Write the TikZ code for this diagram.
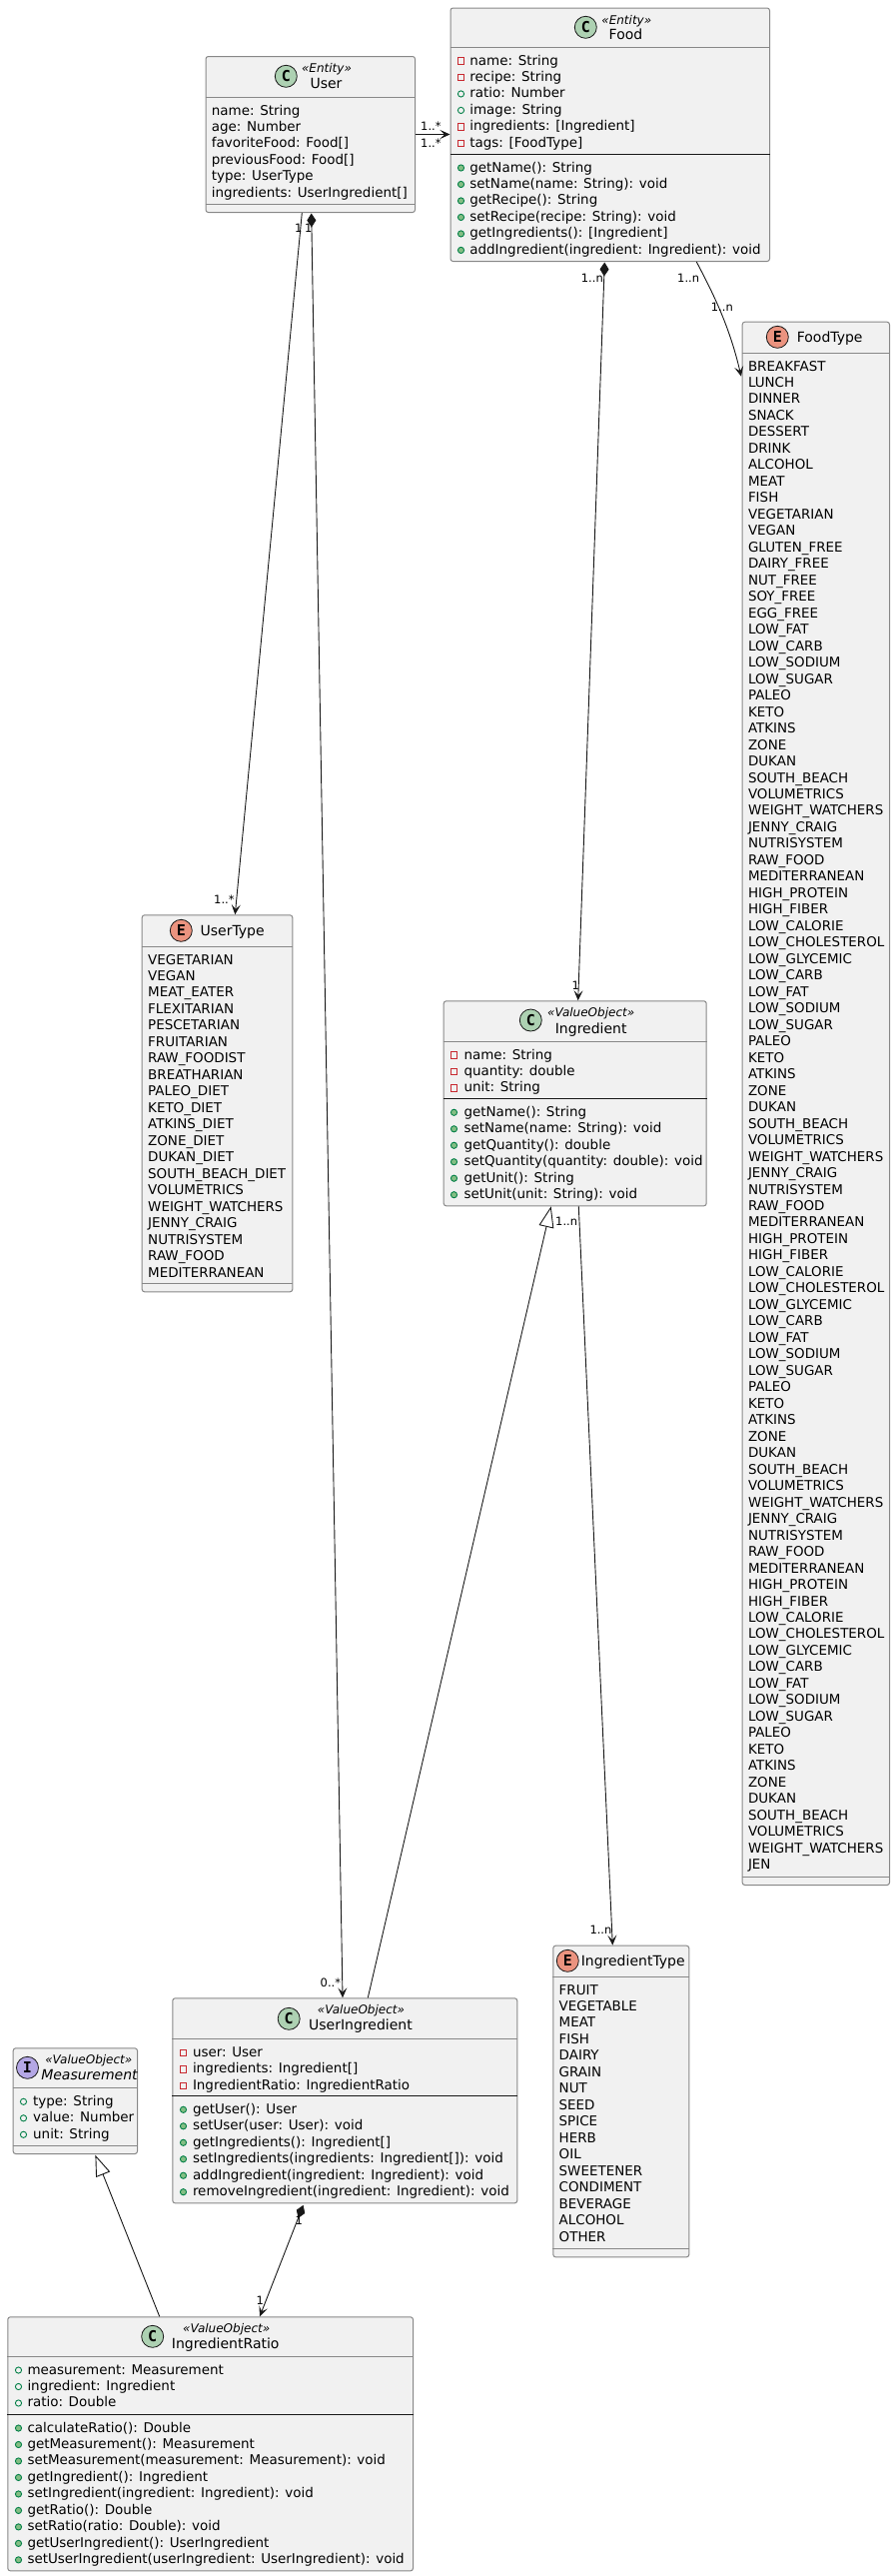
\documentclass[tikz,border=0pt]{standalone}
\usepackage{fontspec}
\setmainfont{DejaVu Sans}
\newfontfamily\spotfont{DejaVu Sans Mono}
\usetikzlibrary{arrows.meta,calc}
\definecolor{boxfill}{HTML}{F1F1F1}
\definecolor{boxline}{HTML}{888888}
\definecolor{ink}{HTML}{181818}
\definecolor{spotC}{HTML}{ADD1B2}
\definecolor{spotE}{HTML}{EB937F}
\definecolor{spotI}{HTML}{B4A7E5}
\definecolor{privred}{HTML}{C82930}
\definecolor{pubgreen}{HTML}{038048}
\definecolor{pubfill}{HTML}{84BE84}
\newcommand{\bodyfont}{\fontsize{13.45}{16.48}\selectfont}
\newcommand{\mylines}[1]{\bodyfont\begin{tabular}[t]{@{}l@{}}#1\end{tabular}}
\tikzset{
  umlbox/.style={draw=boxline,fill=boxfill,line width=1pt,rounded corners=2.5pt,anchor=north west,inner sep=0pt},
  sepgray/.style={draw=boxline,line width=1pt},
  sepblack/.style={draw=ink,line width=1pt},
  txt/.style={anchor=base west,inner sep=0pt,text=black},
  classname/.style={anchor=base,inner sep=0pt,font=\fontsize{14}{16}\selectfont},
  stereo/.style={anchor=base,inner sep=0pt,font=\fontsize{12}{13}\selectfont\itshape},
  spot/.style={circle,draw=ink,line width=0.8pt,minimum size=22pt,inner sep=0pt,font=\spotfont\bfseries\fontsize{15}{15}\selectfont},
  multi/.style={anchor=base west,inner sep=0pt,font=\fontsize{11.5}{13}\selectfont,text=black},
  assoc/.style={draw=ink,line width=0.9pt,-{Stealth[length=10pt,width=9pt,inset=4.5pt]}},
  comp/.style={draw=ink,line width=0.9pt,{Diamond[length=14pt,width=9pt]}-{Stealth[length=10pt,width=9pt,inset=4.5pt]}},
  gener/.style={draw=ink,line width=0.9pt,-{Triangle[length=21pt,width=15pt,fill=white]}},
}
\newcommand{\vp}[2]{\draw[draw=privred,line width=0.9pt,fill=none] (#1-3.2,#2-3.2) rectangle (#1+3.2,#2+3.2);}
\newcommand{\vf}[2]{\draw[draw=pubgreen,line width=0.9pt,fill=none] (#1,#2) circle (3.1pt);}
\newcommand{\vm}[2]{\draw[draw=pubgreen,line width=0.9pt,fill=pubfill] (#1,#2) circle (3.1pt);}
\newcommand{\icons}[3]{\foreach \t [count=\i from 0] in {#3}{\pgfmathsetmacro\yy{#2-4+\i*16.48}\t{#1}{\yy}}}
\newcommand{\mkbox}[5]{\pgfmathsetmacro\ww{#4-#2}\pgfmathsetmacro\hh{#5-#3}\node[umlbox,minimum width=\ww pt,minimum height=\hh pt] (#1) at (#2,#3) {};}
\begin{document}
\begin{tikzpicture}[x=1pt,y=-1pt]
\useasboundingbox (0,0) rectangle (896,2578);
% ---------- boxes ----------
\mkbox{user}{205.5}{56}{415}{212}
\mkbox{food}{450.5}{7.5}{770}{261}
\mkbox{foodtype}{742.7}{321.7}{890}{1886}
\mkbox{usertype}{141.7}{915.3}{292.3}{1292.3}
\mkbox{ingredient}{443.7}{1001.3}{706.7}{1206.3}
\mkbox{useringredient}{172.3}{1999.3}{517.3}{2204.3}
\mkbox{measurement}{12.7}{2049.3}{137}{2155}
\mkbox{ingredienttype}{553.3}{1946.7}{689.3}{2258.3}
\mkbox{ratio}{7.3}{2318.3}{413}{2572.3}
% ---------- separators ----------
\draw[sepgray] (user.west |- 0,97.7) -- (user.east |- 0,97.7);
\draw[sepgray] (user.west |- 0,204.3) -- (user.east |- 0,204.3);
\draw[sepgray] (food.west |- 0,47.5) -- (food.east |- 0,47.5);
\draw[sepblack] (food.west |- 0,154.5) -- (food.east |- 0,154.5);
\draw[sepgray] (foodtype.west |- 0,353.3) -- (foodtype.east |- 0,353.3);
\draw[sepgray] (foodtype.west |- 0,1878) -- (foodtype.east |- 0,1878);
\draw[sepgray] (usertype.west |- 0,947.3) -- (usertype.east |- 0,947.3);
\draw[sepgray] (usertype.west |- 0,1284.3) -- (usertype.east |- 0,1284.3);
\draw[sepgray] (ingredient.west |- 0,1042.7) -- (ingredient.east |- 0,1042.7);
\draw[sepblack] (ingredient.west |- 0,1099.3) -- (ingredient.east |- 0,1099.3);
\draw[sepgray] (useringredient.west |- 0,2040.7) -- (useringredient.east |- 0,2040.7);
\draw[sepblack] (useringredient.west |- 0,2097.3) -- (useringredient.east |- 0,2097.3);
\draw[sepgray] (measurement.west |- 0,2089.3) -- (measurement.east |- 0,2089.3);
\draw[sepgray] (measurement.west |- 0,2147.7) -- (measurement.east |- 0,2147.7);
\draw[sepgray] (ingredienttype.west |- 0,1978.7) -- (ingredienttype.east |- 0,1978.7);
\draw[sepgray] (ingredienttype.west |- 0,2250.3) -- (ingredienttype.east |- 0,2250.3);
\draw[sepgray] (ratio.west |- 0,2358.7) -- (ratio.east |- 0,2358.7);
\draw[sepblack] (ratio.west |- 0,2416) -- (ratio.east |- 0,2416);
% ---------- headers ----------
\node[spot,fill=spotC] (userspot) at (286.3,76.3) {C};
\node[stereo] (userst) at (327,72.7) {«Entity»};
\node[classname] (username) at (326.5,88.7) {User};
\node[spot,fill=spotC] (foodspot) at (586.3,27.3) {C};
\node[stereo] (foodst) at (627.3,24.3) {«Entity»};
\node[classname] (foodname) at (626.5,39.3) {Food};
\node[spot,fill=spotE] (ftspot) at (778.3,337.3) {E};
\node[classname] (ftname) at (830.7,342.3) {FoodType};
\node[spot,fill=spotE] (utspot) at (181.3,931.3) {E};
\node[classname] (utname) at (232.7,936) {UserType};
\node[spot,fill=spotC] (ingspot) at (531.3,1021) {C};
\node[stereo] (ingst) at (591.7,1017.3) {«ValueObject»};
\node[classname] (ingname) at (591.7,1034) {Ingredient};
\node[spot,fill=spotC] (uispot) at (289.2,2020.3) {C};
\node[stereo] (uist) at (361.5,2015.3) {«ValueObject»};
\node[classname] (uiname) at (361,2031.7) {UserIngredient};
\node[spot,fill=spotC] (rspot) at (152.7,2338.3) {C};
\node[stereo] (rst) at (226.7,2334) {«ValueObject»};
\node[classname] (rname) at (225.7,2350.7) {IngredientRatio};
\node[spot,fill=spotI] (mspot) at (27.5,2069.3) {I};
\node[stereo] (mst) at (88.8,2065.3) {«ValueObject»};
\node[classname,font=\fontsize{14}{16}\selectfont\itshape] (mname) at (89.5,2081.7) {Measurement};
\node[spot,fill=spotE] (itspot) at (568.3,1962.3) {E};
\node[classname] (itname) at (633.7,1967.7) {IngredientType};
% ---------- compartments ----------
\node[txt] (userattrs) at (211.7,115) {\mylines{name: String\\age: Number\\favoriteFood: Food[]\\previousFood: Food[]\\type: UserType\\ingredients: UserIngredient[]}};
\node[txt] (foodattrs) at (470.2,65) {\mylines{name: String\\recipe: String\\ratio: Number\\image: String\\ingredients: [Ingredient]\\tags: [FoodType]}};
\icons{461.5}{65}{\vp,\vp,\vf,\vf,\vp,\vp}
\node[txt] (foodmeth) at (470.2,172) {\mylines{getName(): String\\setName(name: String): void\\getRecipe(): String\\setRecipe(recipe: String): void\\getIngredients(): [Ingredient]\\addIngredient(ingredient: Ingredient): void}};
\icons{461.5}{172}{\vm,\vm,\vm,\vm,\vm,\vm}
\node[txt] (foodtypevals) at (748.8,371) {\mylines{BREAKFAST\\LUNCH\\DINNER\\SNACK\\DESSERT\\DRINK\\ALCOHOL\\MEAT\\FISH\\VEGETARIAN\\VEGAN\\GLUTEN\_FREE\\DAIRY\_FREE\\NUT\_FREE\\SOY\_FREE\\EGG\_FREE\\LOW\_FAT\\LOW\_CARB\\LOW\_SODIUM\\LOW\_SUGAR\\PALEO\\KETO\\ATKINS\\ZONE\\DUKAN\\SOUTH\_BEACH\\VOLUMETRICS\\WEIGHT\_WATCHERS\\JENNY\_CRAIG\\NUTRISYSTEM\\RAW\_FOOD\\MEDITERRANEAN\\HIGH\_PROTEIN\\HIGH\_FIBER\\LOW\_CALORIE\\LOW\_CHOLESTEROL\\LOW\_GLYCEMIC\\LOW\_CARB\\LOW\_FAT\\LOW\_SODIUM\\LOW\_SUGAR\\PALEO\\KETO\\ATKINS\\ZONE\\DUKAN\\SOUTH\_BEACH\\VOLUMETRICS\\WEIGHT\_WATCHERS\\JENNY\_CRAIG\\NUTRISYSTEM\\RAW\_FOOD\\MEDITERRANEAN\\HIGH\_PROTEIN\\HIGH\_FIBER\\LOW\_CALORIE\\LOW\_CHOLESTEROL\\LOW\_GLYCEMIC\\LOW\_CARB\\LOW\_FAT\\LOW\_SODIUM\\LOW\_SUGAR\\PALEO\\KETO\\ATKINS\\ZONE\\DUKAN\\SOUTH\_BEACH\\VOLUMETRICS\\WEIGHT\_WATCHERS\\JENNY\_CRAIG\\NUTRISYSTEM\\RAW\_FOOD\\MEDITERRANEAN\\HIGH\_PROTEIN\\HIGH\_FIBER\\LOW\_CALORIE\\LOW\_CHOLESTEROL\\LOW\_GLYCEMIC\\LOW\_CARB\\LOW\_FAT\\LOW\_SODIUM\\LOW\_SUGAR\\PALEO\\KETO\\ATKINS\\ZONE\\DUKAN\\SOUTH\_BEACH\\VOLUMETRICS\\WEIGHT\_WATCHERS\\JEN}};
\node[txt] (usertypevals) at (148,965) {\mylines{VEGETARIAN\\VEGAN\\MEAT\_EATER\\FLEXITARIAN\\PESCETARIAN\\FRUITARIAN\\RAW\_FOODIST\\BREATHARIAN\\PALEO\_DIET\\KETO\_DIET\\ATKINS\_DIET\\ZONE\_DIET\\DUKAN\_DIET\\SOUTH\_BEACH\_DIET\\VOLUMETRICS\\WEIGHT\_WATCHERS\\JENNY\_CRAIG\\NUTRISYSTEM\\RAW\_FOOD\\MEDITERRANEAN}};
\node[txt] (ingattrs) at (464.3,1060) {\mylines{name: String\\quantity: double\\unit: String}};
\icons{454.5}{1060}{\vp,\vp,\vp}
\node[txt] (ingmeth) at (464.3,1117.3) {\mylines{getName(): String\\setName(name: String): void\\getQuantity(): double\\setQuantity(quantity: double): void\\getUnit(): String\\setUnit(unit: String): void}};
\icons{454.5}{1117.3}{\vm,\vm,\vm,\vm,\vm,\vm}
\node[txt] (uiattrs) at (192.8,2058.3) {\mylines{user: User\\ingredients: Ingredient[]\\IngredientRatio: IngredientRatio}};
\icons{183.5}{2058.3}{\vp,\vp,\vp}
\node[txt] (uimeth) at (192.8,2115.3) {\mylines{getUser(): User\\setUser(user: User): void\\getIngredients(): Ingredient[]\\setIngredients(ingredients: Ingredient[]): void\\addIngredient(ingredient: Ingredient): void\\removeIngredient(ingredient: Ingredient): void}};
\icons{183.5}{2115.3}{\vm,\vm,\vm,\vm,\vm,\vm}
\node[txt] (mattrs) at (33,2107.3) {\mylines{type: String\\value: Number\\unit: String}};
\icons{23.5}{2107.3}{\vf,\vf,\vf}
\node[txt] (itvals) at (559.5,1996) {\mylines{FRUIT\\VEGETABLE\\MEAT\\FISH\\DAIRY\\GRAIN\\NUT\\SEED\\SPICE\\HERB\\OIL\\SWEETENER\\CONDIMENT\\BEVERAGE\\ALCOHOL\\OTHER}};
\node[txt] (rattrs) at (27.3,2376) {\mylines{measurement: Measurement\\ingredient: Ingredient\\ratio: Double}};
\icons{18.5}{2376}{\vf,\vf,\vf}
\node[txt] (rmeth) at (27.3,2434) {\mylines{calculateRatio(): Double\\getMeasurement(): Measurement\\setMeasurement(measurement: Measurement): void\\getIngredient(): Ingredient\\setIngredient(ingredient: Ingredient): void\\getRatio(): Double\\setRatio(ratio: Double): void\\getUserIngredient(): UserIngredient\\setUserIngredient(userIngredient: UserIngredient): void}};
\icons{18.5}{2434}{\vm,\vm,\vm,\vm,\vm,\vm,\vm,\vm,\vm}
% ---------- connectors ----------
\draw[assoc] (user.east |- 0,134.5) -- (food.west |- 0,134.5);
\draw[assoc] ($(user.south west)+(96.8,0)$) -- ($(usertype.north west)+(93.6,0)$);
\draw[comp] ($(user.south west)+(106.2,0.5)$) -- ($(useringredient.north west)+(170.7,0)$);
\draw[comp] ($(food.south west)+(154.8,0.5)$) -- ($(ingredient.north west)+(135,0)$);
\draw[assoc] ($(food.south west)+(246.8,0)$) .. controls (713,292) and (730,325) .. ($(foodtype.north west)+(-0.7,55)$);
\draw[assoc] ($(ingredient.south west)+(135.6,0)$) -- ($(ingredienttype.north west)+(60,0)$);
\draw[gener] ($(useringredient.north west)+(196,0)$) -- ($(ingredient.south west)+(108,0)$);
\draw[gener] ($(ratio.north west)+(152.4,0)$) -- ($(measurement.south west)+(82.7,0.7)$);
\draw[comp] ($(useringredient.south west)+(131.3,1.5)$) -- ($(ratio.north west)+(252.7,0)$);
% ---------- multiplicities ----------
\node[multi] (m1) at (421,130.7) {1..*};
\node[multi] (m2) at (421,147) {1..*};
\node[multi] (m3) at (295,232.7) {1};
\node[multi] (m4) at (305,232.7) {1};
\node[multi] (m5) at (214,904) {1..*};
\node[multi] (m6) at (320.5,1988) {0..*};
\node[multi] (m7) at (581.7,282) {1..n};
\node[multi] (m8) at (678,282) {1..n};
\node[multi] (m9) at (711.7,311) {1..n};
\node[multi] (m10) at (572.5,990.7) {1};
\node[multi] (m11) at (556,1226.7) {1..n};
\node[multi] (m12) at (590.3,1935) {1..n};
\node[multi] (m13) at (295.5,2226) {1};
\node[multi] (m14) at (256.5,2306.7) {1};
\end{tikzpicture}
\end{document}
